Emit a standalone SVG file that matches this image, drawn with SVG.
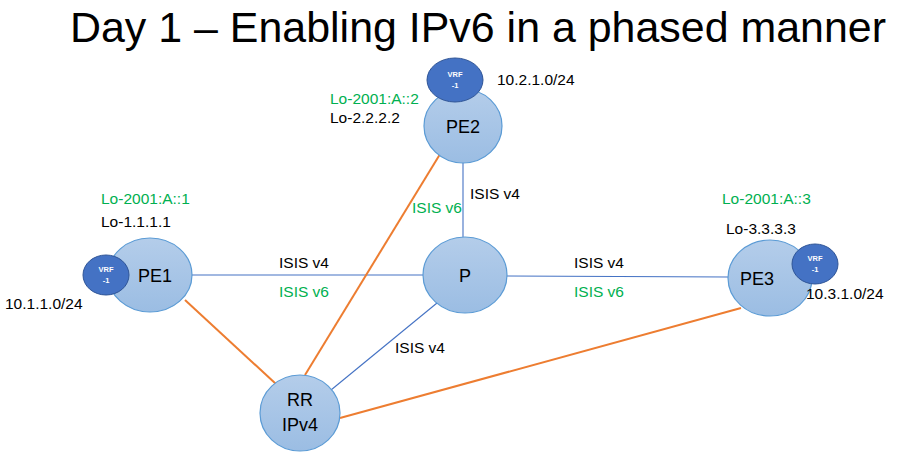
<svg xmlns="http://www.w3.org/2000/svg" width="906" height="462" viewBox="0 0 906 462">
<defs>
<linearGradient id="g" x1="0" y1="0" x2="0" y2="1">
<stop offset="0" stop-color="#b4cdea"/>
<stop offset="1" stop-color="#9bbde3"/>
</linearGradient>
<style>
.n{fill:url(#g);stroke:#5b9bd5;stroke-width:1.2}
.v{fill:#4472c4;stroke:#2f5597;stroke-width:1}
.vt{font-family:"Liberation Sans",Arial,sans-serif;font-size:7.5px;font-weight:bold;fill:#fff;text-anchor:middle}
.nt{font-family:"Liberation Sans",Arial,sans-serif;font-size:18px;fill:#000;text-anchor:middle}
.t{font-family:"Liberation Sans",Arial,sans-serif;font-size:15.5px;fill:#000}
.gr{fill:#00b050}
.b{stroke:#4472c4;stroke-width:1.1;fill:none}
.o{stroke:#ed7d31;stroke-width:2;fill:none}
</style>
</defs>
<rect width="906" height="462" fill="#fff"/>
<text x="478" y="42" text-anchor="middle" font-family="'Liberation Sans',Arial,sans-serif" font-size="43" textLength="816" lengthAdjust="spacingAndGlyphs">Day 1 – Enabling IPv6 in a phased manner</text>
<g id="connectors">
<line class="b" x1="192" y1="275" x2="423" y2="275"/>
<line class="b" x1="507" y1="276" x2="728" y2="277"/>
<line class="b" x1="463" y1="162" x2="463" y2="237"/>
<line class="b" x1="437" y1="303" x2="331" y2="390"/>
<line class="o" x1="445" y1="146" x2="305" y2="375"/>
<line class="o" x1="185" y1="300" x2="276" y2="384"/>
<line class="o" x1="340" y1="418" x2="741" y2="308"/>
</g>
<g id="labels">
<text class="t" x="279" y="268">ISIS v4</text>
<text class="t gr" x="279" y="297">ISIS v6</text>
<text class="t" x="574" y="268">ISIS v4</text>
<text class="t gr" x="574" y="297">ISIS v6</text>
<text class="t" x="470" y="199">ISIS v4</text>
<text class="t gr" x="412" y="213">ISIS v6</text>
<text class="t" x="395" y="353">ISIS v4</text>
</g>
<g id="PE2">
<ellipse class="n" cx="463" cy="126" rx="39" ry="37"/>
<text class="nt" x="463" y="133">PE2</text>
<ellipse class="v" cx="455" cy="80" rx="28" ry="22"/>
<text class="vt" x="455" y="77">VRF</text>
<text class="vt" x="455" y="88">-1</text>
<text class="t" x="497" y="85">10.2.1.0/24</text>
<text class="t gr" x="330" y="104">Lo-2001:A::2</text>
<text class="t" x="330" y="123">Lo-2.2.2.2</text>
</g>
<g id="PE1">
<ellipse class="n" cx="150" cy="275" rx="42" ry="37"/>
<text class="nt" x="155" y="282">PE1</text>
<ellipse class="v" cx="106" cy="275" rx="23" ry="20"/>
<text class="vt" x="106" y="272">VRF</text>
<text class="vt" x="106" y="283">-1</text>
<text class="t gr" x="101" y="204">Lo-2001:A::1</text>
<text class="t" x="101" y="227">Lo-1.1.1.1</text>
<text class="t" x="5" y="309">10.1.1.0/24</text>
</g>
<g id="P">
<ellipse class="n" cx="465" cy="275" rx="42" ry="38"/>
<text class="nt" x="465" y="282">P</text>
</g>
<g id="PE3">
<ellipse class="n" cx="770" cy="278" rx="42" ry="38"/>
<text class="nt" x="757" y="285">PE3</text>
<ellipse class="v" cx="815" cy="264" rx="23" ry="20"/>
<text class="vt" x="815" y="261">VRF</text>
<text class="vt" x="815" y="272">-1</text>
<text class="t gr" x="722" y="204">Lo-2001:A::3</text>
<text class="t" x="726" y="234">Lo-3.3.3.3</text>
<text class="t" x="806" y="299">10.3.1.0/24</text>
</g>
<g id="RR">
<ellipse class="n" cx="300" cy="413" rx="40" ry="38"/>
<text class="nt" x="300" y="406">RR</text>
<text class="nt" x="300" y="431">IPv4</text>
</g>
</svg>
